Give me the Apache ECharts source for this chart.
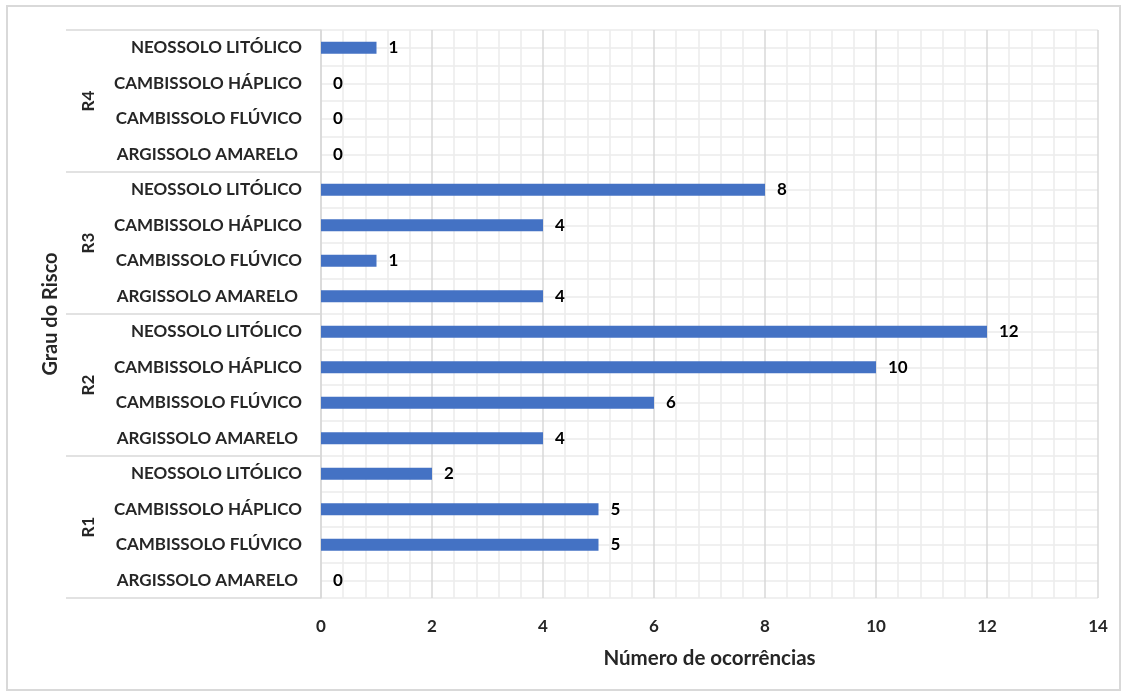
<!DOCTYPE html>
<html>
<head>
<meta charset="utf-8">
<script src="https://cdn.jsdelivr.net/npm/echarts@6/dist/echarts.min.js"></script>
<style>
  html, body { margin: 0; padding: 0; background: #fff; }
  #chart { width: 1127px; height: 693px; }
</style>
</head>
<body>
<div id="chart"></div>
<script>
// Risk grades (bottom to top) and soil classes within each grade (bottom to top)
const grades = ['R1', 'R2', 'R3', 'R4'];
const soils = ['ARGISSOLO AMARELO ', 'CAMBISSOLO FLÚVICO', 'CAMBISSOLO HÁPLICO', 'NEOSSOLO LITÓLICO'];

// Occurrences per soil class, one array per risk grade (same order as soils)
const countsR1 = [0, 5, 5, 2];
const countsR2 = [4, 6, 10, 12];
const countsR3 = [4, 1, 4, 8];
const countsR4 = [0, 0, 0, 1];

const xTicks = { min: 0, max: 14, step: 2 };

const countsByGrade = [countsR1, countsR2, countsR3, countsR4];

// Flatten into one category list (unique keys) and one value list
const categories = [];
const values = [];
grades.forEach((g, gi) => {
  soils.forEach((s, si) => {
    categories.push(g + '|' + s);
    values.push(countsByGrade[gi][si]);
  });
});

const FONT = 'Lato, "Liberation Sans", sans-serif';
const TEXT = '#262626';
const GRID_MAJOR = '#d9d9d9';
const GRID_MINOR = '#ebebeb';

const chart = echarts.init(document.getElementById('chart'), null, { renderer: 'canvas' });

chart.setOption({
  animation: false,
  backgroundColor: '#fff',
  textStyle: { fontFamily: FONT },
  graphic: [{
    type: 'rect',
    shape: { x: 7, y: 6, width: 1113, height: 684 },
    style: { fill: 'none', stroke: GRID_MAJOR, lineWidth: 2 },
    silent: true,
    z: -10
  }],
  grid: { left: 321, right: 29, top: 30, bottom: 95 },
  xAxis: {
    type: 'value',
    min: xTicks.min,
    max: xTicks.max,
    interval: xTicks.step,
    name: 'Número de ocorrências',
    nameLocation: 'middle',
    nameGap: 50,
    nameTextStyle: { fontFamily: FONT, fontWeight: 'bold', fontSize: 20.5, color: TEXT },
    axisLine: { show: false },
    axisTick: { show: false },
    axisLabel: { fontFamily: FONT, fontWeight: 'bold', fontSize: 17, color: TEXT, margin: 20 },
    splitLine: { show: true, lineStyle: { color: GRID_MAJOR, width: 1.5 } },
    minorTick: { show: false, splitNumber: 5 },
    minorSplitLine: { show: true, lineStyle: { color: GRID_MINOR, width: 1.5 } }
  },
  yAxis: [
    {
      // soil class labels
      type: 'category',
      data: categories,
      position: 'left',
      axisLine: { show: false },
      axisTick: { show: false },
      splitLine: { show: false },
      axisLabel: {
        interval: 0,
        margin: 19,
        fontFamily: FONT,
        fontWeight: 'bold',
        fontSize: 17,
        color: TEXT,
        formatter: v => v.split('|')[1]
      },
      z: 5
    },
    {
      // risk grade groups with separators
      type: 'category',
      data: grades,
      position: 'left',
      name: 'Grau do Risco',
      nameLocation: 'middle',
      nameGap: 260,
      nameRotate: 90,
      nameTextStyle: { fontFamily: FONT, fontWeight: 'bold', fontSize: 20, color: TEXT },
      axisLine: { show: true, lineStyle: { color: GRID_MAJOR, width: 1.5 } },
      axisTick: { show: true, length: 255, interval: 0, lineStyle: { color: GRID_MAJOR, width: 1.5 } },
      splitLine: { show: false },
      axisLabel: {
        interval: 0,
        rotate: 90,
        margin: 224,
        fontFamily: FONT,
        fontWeight: 'bold',
        fontSize: 17,
        color: TEXT
      },
      z: 4
    },
    {
      // half-row horizontal gridlines
      type: 'value',
      min: 0,
      max: categories.length * 2,
      interval: 1,
      position: 'right',
      show: true,
      axisLine: { show: false },
      axisTick: { show: false },
      axisLabel: { show: false },
      splitLine: { show: true, lineStyle: { color: GRID_MINOR, width: 1.5 } }
    }
  ],
  series: [{
    type: 'bar',
    yAxisIndex: 0,
    data: values,
    barWidth: 12,
    itemStyle: { color: '#4472C4' },
    label: {
      show: true,
      position: 'right',
      distance: 12,
      fontFamily: FONT,
      fontWeight: 'bold',
      fontSize: 17,
      color: '#000'
    },
    z: 10
  }]
});
</script>
</body>
</html>
